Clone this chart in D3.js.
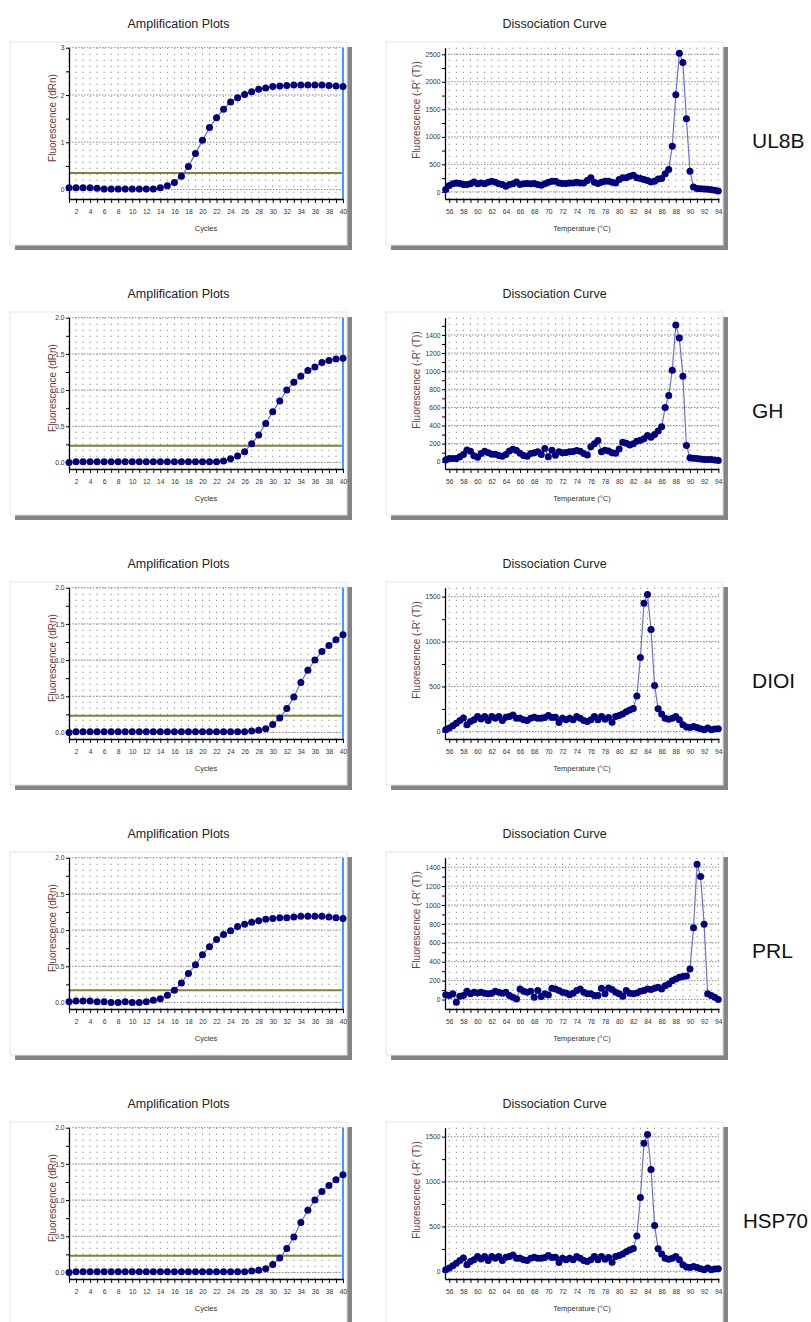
<!DOCTYPE html>
<html>
<head>
<meta charset="utf-8">
<script src="https://cdn.jsdelivr.net/npm/d3@7"></script>
<style>
  body { margin: 0; background: #fff; }
  svg text { font-family: Arial, "Liberation Sans", sans-serif; }
</style>
</head>
<body>
<div id="chart"></div>
<script>
(function () {

  //one gene per row
  var genes = ["UL8B", "GH", "DIOI", "PRL", "HSP70"];

  //amplification x values
  var cycles = [1,2,3,4,5,6,7,8,9,10,11,12,13,14,15,16,17,18,19,20,
                21,22,23,24,25,26,27,28,29,30,31,32,33,34,35,36,37,38,39,40];

  //dissociation x values (deg C)
  var temps = [55.5,56,56.5,57,57.5,58,58.5,59,59.5,60,
               60.5,61,61.5,62,62.5,63,63.5,64,64.5,65,
               65.5,66,66.5,67,67.5,68,68.5,69,69.5,70,
               70.5,71,71.5,72,72.5,73,73.5,74,74.5,75,
               75.5,76,76.5,77,77.5,78,78.5,79,79.5,80,
               80.5,81,81.5,82,82.5,83,83.5,84,84.5,85,
               85.5,86,86.5,87,87.5,88,88.5,89,89.5,90,
               90.5,91,91.5,92,92.5,93,93.5,94];

  //x tick marks
  var cycleTicks = cycles;
  var tempTicks = [56,57,58,59,60,61,62,63,64,65,66,67,68,69,70,71,72,73,74,75,
                   76,77,78,79,80,81,82,83,84,85,86,87,88,89,90,91,92,93,94];

  //amplification plots (dRn)
  var ampUL8B = [0.04,0.04,0.04,0.04,0.03,0.01,0.01,0.01,0.01,0.01,
                 0.01,0.01,0.01,0.04,0.08,0.15,0.28,0.49,0.76,1.04,
                 1.31,1.52,1.70,1.85,1.94,2.01,2.07,2.12,2.15,2.18,
                 2.19,2.20,2.21,2.21,2.21,2.21,2.21,2.20,2.19,2.18];
  var ampGH = [0.00,0.01,0.01,0.01,0.01,0.01,0.01,0.01,0.01,0.01,
               0.01,0.01,0.01,0.01,0.01,0.01,0.01,0.01,0.01,0.01,
               0.01,0.01,0.02,0.05,0.09,0.15,0.26,0.38,0.54,0.70,
               0.85,1.00,1.11,1.19,1.27,1.32,1.38,1.41,1.43,1.44];
  var ampDIOI = [0.00,0.01,0.01,0.01,0.01,0.01,0.01,0.01,0.01,0.01,
                 0.01,0.01,0.01,0.01,0.01,0.01,0.01,0.01,0.01,0.01,
                 0.01,0.01,0.01,0.01,0.01,0.01,0.02,0.03,0.05,0.11,
                 0.20,0.33,0.49,0.69,0.86,1.00,1.12,1.20,1.28,1.35];
  var ampPRL = [0.01,0.02,0.02,0.02,0.01,0.01,0.00,0.00,0.01,0.00,
                0.00,0.01,0.03,0.05,0.10,0.17,0.27,0.40,0.52,0.66,
                0.77,0.87,0.94,0.99,1.05,1.08,1.11,1.13,1.15,1.16,
                1.17,1.17,1.18,1.19,1.19,1.19,1.19,1.18,1.17,1.16];
  var ampHSP70 = [0.00,0.01,0.01,0.01,0.01,0.01,0.01,0.01,0.01,0.01,
                  0.01,0.01,0.01,0.01,0.01,0.01,0.01,0.01,0.01,0.01,
                  0.01,0.01,0.01,0.01,0.01,0.01,0.02,0.03,0.05,0.11,
                  0.20,0.33,0.49,0.69,0.86,1.00,1.12,1.20,1.28,1.35];
  var thresholds = [0.35, 0.23, 0.23, 0.17, 0.23];

  //dissociation curves (-R'(T))
  var dissUL8B = [42,115,145,163,150,133,133,145,180,145,
                  163,145,175,193,175,145,133,103,133,145,
                  181,133,145,150,145,150,133,121,145,175,
                  193,193,163,150,150,163,163,175,163,163,
                  205,254,175,150,175,193,193,175,163,223,
                  254,254,284,302,254,242,223,205,181,193,
                  235,242,330,405,830,1765,2520,2350,1330,375,
                  90,60,55,50,45,40,30,15];
  var dissGH = [20,36,36,36,55,80,130,115,65,50,
                90,116,100,84,84,70,62,80,120,138,
                125,95,68,62,90,100,110,80,145,55,
                127,73,110,98,102,110,112,125,115,90,
                75,165,200,235,110,127,118,100,95,140,
                215,205,185,200,225,236,255,291,270,300,
                340,385,600,730,1010,1510,1365,945,180,45,
                40,35,30,25,25,25,20,15];
  var dissDIOI = [18,37,62,91,121,150,73,110,128,165,
                  139,165,121,165,146,165,121,157,165,183,
                  146,146,128,121,146,157,146,146,154,176,
                  154,157,99,146,128,146,128,165,146,121,
                  110,128,165,128,165,135,154,102,165,176,
                  194,219,238,256,395,823,1427,1525,1134,512,
                  252,194,146,135,146,165,128,73,48,44,
                  55,44,29,18,37,18,26,29];
  var dissPRL = [52,42,60,-28,35,42,87,60,77,70,
                 77,66,60,66,87,77,66,77,42,25,
                 7,112,87,77,87,25,95,31,60,49,
                 119,112,95,77,70,52,66,95,112,77,
                 60,60,42,42,119,60,122,105,77,60,
                 35,95,66,60,70,87,95,112,105,119,
                 130,112,147,165,200,217,235,245,250,322,
                 760,1431,1302,795,60,42,25,0];
  var dissHSP70 = [18,37,62,91,121,150,73,110,128,165,
                   139,165,121,165,146,165,121,157,165,183,
                   146,146,128,121,146,157,146,146,154,176,
                   154,157,99,146,128,146,128,165,146,121,
                   110,128,165,128,165,135,154,102,165,176,
                   194,219,238,256,395,823,1427,1525,1134,512,
                   252,194,146,135,146,165,128,73,48,44,
                   55,44,29,18,37,18,26,29];

  var ampSeries = [ampUL8B, ampGH, ampDIOI, ampPRL, ampHSP70];
  var dissSeries = [dissUL8B, dissGH, dissDIOI, dissPRL, dissHSP70];

  //y axes
  var ampYTicks = [[0,1,2,3],[0,0.5,1,1.5,2],[0,0.5,1,1.5,2],[0,0.5,1,1.5,2],[0,0.5,1,1.5,2]];
  var ampYMin = [-0.2, -0.09, -0.09, -0.09, -0.09];
  var dissYTicks = [[0,500,1000,1500,2000,2500],
                    [0,200,400,600,800,1000,1200,1400],
                    [0,500,1000,1500],
                    [0,200,400,600,800,1000,1200,1400],
                    [0,500,1000,1500]];
  var dissYMin = [-130, -80, -85, -100, -85];
  var dissYMax = [2620, 1590, 1600, 1500, 1600];

  //page
  var svg = d3.select("#chart")
    .append("svg")
    .attr("width", 811)
    .attr("height", 1322);

  var rowStep = 270,
      firstTop = 42,
      panelW = 337,
      panelH = 203;

  //plot box inside a panel
  var plotL = 59, plotR = 333, plotT = 5.7, plotB = 157;

  function drawPanel(top, left, cfg) {
    var g = svg.append("g")
      .attr("transform", "translate(" + left + "," + top + ")");

    //shadow and paper
    g.append("rect")
      .attr("x", 5).attr("y", 5)
      .attr("width", panelW).attr("height", panelH)
      .attr("fill", "#858585");
    g.append("rect")
      .attr("width", panelW).attr("height", panelH)
      .attr("fill", "#fff")
      .attr("stroke", "#e4e4e4");

    //title
    g.append("text")
      .attr("x", panelW / 2)
      .attr("y", -14.5)
      .attr("text-anchor", "middle")
      .attr("font-size", 12.5)
      .attr("fill", "#222")
      .text(cfg.title);

    var x = d3.scaleLinear().domain(cfg.xDomain).range([plotL, plotR]);
    var y = d3.scaleLinear().domain(cfg.yDomain).range([plotB, plotT]);

    //dotted grid
    g.append("g").selectAll("line")
      .data(cfg.xTicks)
      .enter().append("line")
      .attr("x1", function (d) { return x(d) })
      .attr("x2", function (d) { return x(d) })
      .attr("y1", plotT)
      .attr("y2", plotB)
      .attr("stroke", "#8c8c8c")
      .attr("stroke-dasharray", "1.3,4.7");
    g.append("g").selectAll("line")
      .data(cfg.yTicks)
      .enter().append("line")
      .attr("x1", plotL)
      .attr("x2", plotR)
      .attr("y1", function (d) { return y(d) })
      .attr("y2", function (d) { return y(d) })
      .attr("stroke", "#8c8c8c")
      .attr("stroke-dasharray", "1.5,1.5");

    //threshold
    if (cfg.threshold != null) {
      g.append("line")
        .attr("x1", plotL).attr("x2", plotR)
        .attr("y1", y(cfg.threshold)).attr("y2", y(cfg.threshold))
        .attr("stroke", "#868038")
        .attr("stroke-width", 2);
    }

    //end of run marker
    if (cfg.endLine != null) {
      g.append("line")
        .attr("x1", x(cfg.endLine)).attr("x2", x(cfg.endLine))
        .attr("y1", plotT).attr("y2", plotB)
        .attr("stroke", "#3c9cff")
        .attr("stroke-width", 2);
    }

    //axes
    var xAxis = d3.axisBottom(x)
      .tickValues(cfg.xTicks)
      .tickSize(4)
      .tickSizeOuter(0)
      .tickPadding(6)
      .tickFormat(function (d) { return d % 2 === 0 ? d : "" });
    var xg = g.append("g")
      .attr("class", "axis x-axis")
      .attr("transform", "translate(0," + plotB + ")")
      .call(xAxis);

    var step = cfg.yTicks[1] - cfg.yTicks[0];
    var minor = cfg.yTicks.map(function (d) { return d + step / 2 })
      .filter(function (d) { return d < cfg.yDomain[1] });
    var yAxis = d3.axisLeft(y)
      .tickValues(cfg.yTicks)
      .tickSize(3)
      .tickSizeOuter(0)
      .tickPadding(1.5)
      .tickFormat(cfg.yFormat);
    var yg = g.append("g")
      .attr("class", "axis y-axis")
      .attr("transform", "translate(" + plotL + ",0)")
      .call(yAxis);
    var ym = g.append("g")
      .attr("transform", "translate(" + plotL + ",0)")
      .call(d3.axisLeft(y).tickValues(minor).tickSize(3).tickFormat(""));
    ym.select(".domain").remove();

    [xg, yg, ym].forEach(function (a) {
      a.selectAll("path").attr("stroke", "#000").attr("stroke-width", 1.3);
      a.selectAll("line").attr("stroke", "#000");
      a.selectAll("text")
        .attr("font-family", "Arial, 'Liberation Sans', sans-serif")
        .attr("font-size", 6.7)
        .attr("fill", "#333");
    });

    //axis titles
    g.append("text")
      .attr("x", (plotL + plotR) / 2)
      .attr("y", 189)
      .attr("text-anchor", "middle")
      .attr("font-size", 7.5)
      .attr("fill", "#333")
      .text(cfg.xLabel);
    g.append("text")
      .attr("transform", "translate(" + cfg.yLabelX + "," + cfg.yLabelY + ") rotate(-90)")
      .attr("text-anchor", "middle")
      .attr("dy", "0.35em")
      .attr("font-size", 10)
      .attr("fill", "#6e3a3a")
      .text(cfg.yLabel);

    //series
    var pts = cfg.xs.map(function (d, i) { return [d, cfg.ys[i]] });
    var line = d3.line()
      .x(function (d) { return x(d[0]) })
      .y(function (d) { return y(d[1]) });
    g.append("path")
      .datum(pts)
      .attr("d", line)
      .attr("fill", "none")
      .attr("stroke", "#7070c8")
      .attr("stroke-width", 1.2);
    g.append("g").selectAll("circle")
      .data(pts)
      .enter().append("circle")
      .attr("cx", function (d) { return x(d[0]) })
      .attr("cy", function (d) { return y(d[1]) })
      .attr("r", 3.5)
      .attr("fill", "#000080");
  }

  //let's draw
  genes.forEach(function (gene, i) {
    var top = firstTop + rowStep * i;

    drawPanel(top, 10, {
      title: "Amplification Plots",
      xs: cycles,
      ys: ampSeries[i],
      xDomain: [1, 40],
      xTicks: cycleTicks,
      yDomain: [ampYMin[i], ampYTicks[i][ampYTicks[i].length - 1]],
      yTicks: ampYTicks[i],
      yFormat: i === 0 ? d3.format("d") : d3.format(".1f"),
      xLabel: "Cycles",
      yLabel: "Fluorescence (dRn)",
      yLabelX: 42,
      yLabelY: 76,
      threshold: thresholds[i],
      endLine: 40
    });

    drawPanel(top, 386, {
      title: "Dissociation Curve",
      xs: temps,
      ys: dissSeries[i],
      xDomain: [55.4, 94.1],
      xTicks: tempTicks,
      yDomain: [dissYMin[i], dissYMax[i]],
      yTicks: dissYTicks[i],
      yFormat: d3.format("d"),
      xLabel: "Temperature (\u00B0C)",
      yLabel: "Fluorescence (-R' (T))",
      yLabelX: 30.7,
      yLabelY: 68,
      threshold: null,
      endLine: null
    });

    //gene name; the last one is longer, keep it on the page
    var last = i === genes.length - 1;
    svg.append("text")
      .attr("x", last ? 743 : 752)
      .attr("y", top + 106)
      .attr("font-size", last ? 20.5 : 21)
      .attr("fill", "#111")
      .text(gene);
  });

})()
</script>
</body>
</html>
